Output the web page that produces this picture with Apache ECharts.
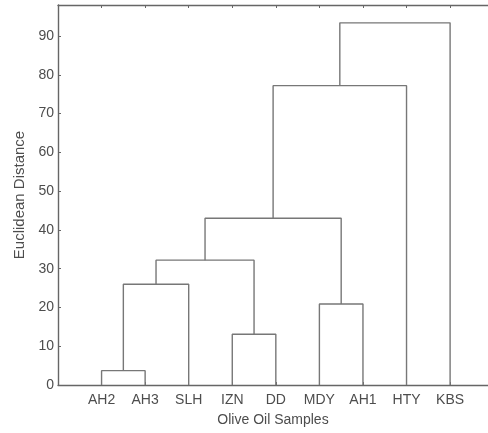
<!DOCTYPE html>
<html>
<head>
<meta charset="utf-8">
<script src="https://cdn.jsdelivr.net/npm/echarts@6/dist/echarts.min.js"></script>
<style>
    html, body { margin: 0; padding: 0; background: #fff; }
    #chart { width: 488px; height: 433px; }
</style>
</head>
<body>
<div id="chart"></div>
<script>
// leaves in dendrogram order
const leaves = ['AH2', 'AH3', 'SLH', 'IZN', 'DD', 'MDY', 'AH1', 'HTY', 'KBS'];
// linkage: node ids 0..8 are leaves, 9.. are clusters formed by each row
const linkLeft = [0, 9, 3, 10, 5, 12, 14, 15];
const linkRight = [1, 2, 4, 11, 6, 13, 7, 8];
const linkHeight = [3.7, 26.0, 13.1, 32.2, 20.9, 43.0, 77.2, 93.4];
const yTicks = [0, 10, 20, 30, 40, 50, 60, 70, 80, 90];

const lineColor = '#777';
const axisColor = '#666';
const textColor = '#4d4d4d';

// node position (leaf index starting at 1) and height
const nodeX = leaves.map((_, i) => i + 1);
const nodeH = leaves.map(() => 0);
const series = [];
linkLeft.forEach((l, k) => {
    const r = linkRight[k];
    const h = linkHeight[k];
    series.push({
        type: 'line',
        symbol: 'none',
        silent: true,
        lineStyle: { color: lineColor, width: 1.4 },
        data: [[nodeX[l], nodeH[l]], [nodeX[l], h], [nodeX[r], h], [nodeX[r], nodeH[r]]]
    });
    nodeX.push((nodeX[l] + nodeX[r]) / 2);
    nodeH.push(h);
});

const leafPos = leaves.map((_, i) => i + 1);
// the original plot box runs a little past the right edge of the picture
const xMax = 9.87;
const chart = echarts.init(document.getElementById('chart'));
chart.setOption({
    animation: false,
    textStyle: { fontFamily: 'Liberation Sans, Arial, sans-serif' },
    grid: { left: 58, top: 5, right: 0, bottom: 48, containLabel: false },
    xAxis: [{
        type: 'value',
        min: 0,
        max: xMax,
        interval: 1,
        position: 'bottom',
        name: 'Olive Oil Samples',
        nameLocation: 'middle',
        nameGap: 28,
        nameTextStyle: { color: textColor, fontSize: 14 },
        splitLine: { show: false },
        axisLine: { onZero: false, lineStyle: { color: axisColor, width: 1.4 } },
        axisTick: { inside: true, length: 3, customValues: leafPos, lineStyle: { color: axisColor } },
        axisLabel: {
            customValues: leafPos,
            color: textColor,
            fontSize: 14,
            margin: 8,
            formatter: v => leaves[v - 1] || ''
        }
    }, {
        type: 'value',
        min: 0,
        max: xMax,
        interval: 1,
        position: 'top',
        splitLine: { show: false },
        axisLine: { show: true, onZero: false, lineStyle: { color: axisColor, width: 1.4 } },
        axisTick: { show: true, inside: true, length: 3, customValues: leafPos, lineStyle: { color: axisColor } },
        axisLabel: { show: false }
    }],
    yAxis: {
        type: 'value',
        min: 0,
        max: 98,
        interval: 10,
        name: 'Euclidean Distance',
        nameLocation: 'middle',
        nameGap: 30,
        nameTextStyle: { color: textColor, fontSize: 15 },
        splitLine: { show: false },
        axisLine: { show: true, onZero: false, lineStyle: { color: axisColor, width: 1.4 } },
        axisTick: { show: true, inside: true, length: 3, customValues: yTicks, lineStyle: { color: axisColor } },
        axisLabel: { customValues: yTicks, color: textColor, fontSize: 14, margin: 4 }
    },
    series: series
});
</script>
</body>
</html>
